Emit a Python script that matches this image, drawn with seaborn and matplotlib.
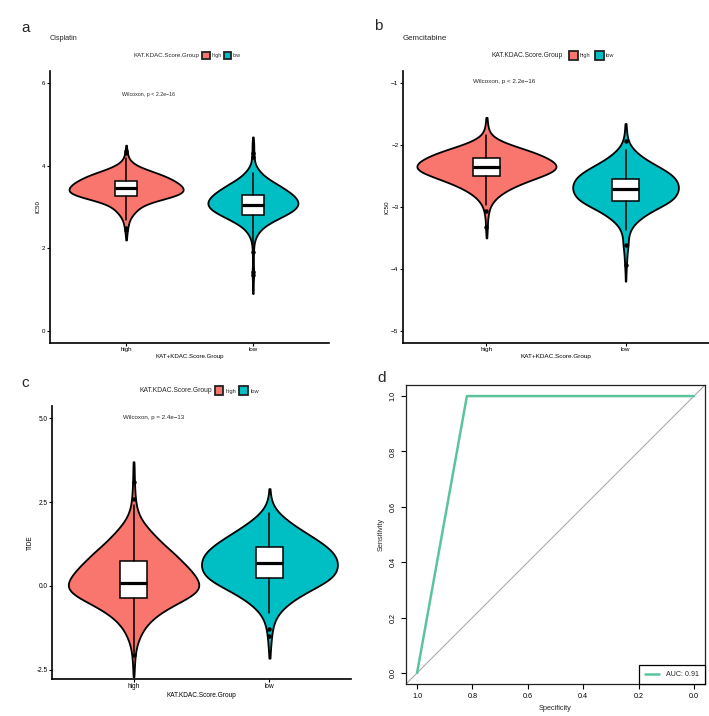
import numpy as np
import pandas as pd
import matplotlib
matplotlib.use("Agg")
import matplotlib.pyplot as plt
import seaborn as sns
from matplotlib.patches import Patch

# ------------------------------------------------------------------ data
groups = ["high", "low"]
palette = {"high": "#F8766D", "low": "#00BFC4"}
legend_title = "KAT.KDAC.Score.Group"

# Panel a: Cisplatin IC50 - value grid and relative frequencies
cis_high_values = [4.5, 4.4, 4.3, 4.2, 4.1, 4.0, 3.9, 3.8, 3.7, 3.6, 3.5, 3.4,
                   3.3, 3.2, 3.1, 3.0, 2.9, 2.8, 2.7, 2.6, 2.5, 2.4, 2.3, 2.2]
cis_high_counts = [1, 2, 4, 6, 13, 30, 60, 100, 125, 148, 162, 170,
                   160, 110, 62, 40, 28, 18, 10, 7, 5, 3, 2, 1]
cis_low_values = [4.7, 4.6, 4.5, 4.4, 4.3, 4.2, 4.1, 4.0, 3.9, 3.8, 3.7, 3.6, 3.5,
                  3.4, 3.3, 3.2, 3.1, 3.0, 2.9, 2.8, 2.7, 2.6, 2.5, 2.4, 2.3, 2.2,
                  2.1, 2.0, 1.9, 1.8, 1.7, 1.6, 1.5, 1.4, 1.3, 1.2, 1.1, 1.0, 0.9]
cis_low_counts = [1, 2, 3, 2, 3, 4, 4, 8, 16, 26, 40, 60, 80,
                  98, 115, 126, 132, 128, 115, 92, 68, 45, 28, 17, 10, 5,
                  3, 2, 2, 1, 2, 1, 2, 3, 2, 1, 1, 1, 1]
# box statistics (high, low)
cis_q1 = [3.27, 2.80]
cis_med = [3.46, 3.06]
cis_q3 = [3.63, 3.30]
cis_whislo = [2.68, 2.02]
cis_whishi = [4.20, 3.82]
cis_fliers = [[4.30, 4.36, 2.50, 2.44], [4.22, 4.30, 1.90, 1.42, 1.34]]

# Panel b: Gemcitabine IC50
gem_high_values = [-1.55, -1.6, -1.7, -1.8, -1.9, -2.0, -2.1, -2.2, -2.3, -2.4, -2.5,
                   -2.6, -2.7, -2.8, -2.9, -3.0, -3.1, -3.2, -3.3, -3.4, -3.5]
gem_high_counts = [1, 2, 4, 8, 25, 70, 132, 174, 204, 206, 160,
                   108, 68, 38, 20, 9, 6, 3, 3, 2, 1]
gem_low_values = [-1.65, -1.7, -1.8, -1.9, -2.0, -2.1, -2.2, -2.3, -2.4, -2.5, -2.6,
                  -2.7, -2.8, -2.9, -3.0, -3.1, -3.2, -3.3, -3.4, -3.5, -3.6, -3.7,
                  -3.8, -3.9, -4.0, -4.1, -4.2]
gem_low_counts = [1, 2, 3, 6, 12, 28, 50, 80, 115, 142, 153,
                  157, 150, 138, 100, 65, 40, 20, 12, 7, 9, 5,
                  4, 3, 2, 1, 1]
gem_q1 = [-2.50, -2.90]
gem_med = [-2.35, -2.71]
gem_q3 = [-2.20, -2.54]
gem_whislo = [-2.97, -3.37]
gem_whishi = [-1.84, -2.08]
gem_fliers = [[-3.07, -3.33], [-1.93, -3.62, -3.94]]

# Panel c: TIDE
tide_high_values = [3.7, 3.5, 3.25, 3.0, 2.75, 2.5, 2.25, 2.0, 1.75, 1.5, 1.25, 1.0,
                    0.75, 0.5, 0.25, 0.0, -0.25, -0.5, -0.75, -1.0, -1.25, -1.5,
                    -1.75, -2.0, -2.25, -2.5, -2.7]
tide_high_counts = [1, 2, 2, 3, 4, 6, 10, 20, 38, 60, 83, 112,
                    135, 160, 178, 193, 177, 125, 82, 50, 30, 18,
                    9, 5, 3, 2, 1]
tide_low_values = [2.9, 2.75, 2.5, 2.25, 2.0, 1.75, 1.5, 1.25, 1.0, 0.75, 0.5, 0.25,
                   0.0, -0.25, -0.5, -0.75, -1.0, -1.25, -1.5, -1.75, -2.0, -2.15]
tide_low_counts = [1, 2, 5, 18, 45, 80, 120, 160, 190, 202, 200, 192,
                   145, 95, 58, 30, 15, 9, 6, 4, 2, 1]
tide_q1 = [-0.35, 0.23]
tide_med = [0.10, 0.69]
tide_q3 = [0.74, 1.17]
tide_whislo = [-1.99, -0.79]
tide_whishi = [2.40, 2.18]
tide_fliers = [[2.60, 3.10, -2.06], [-1.29, -1.49]]

# Panel d: ROC curve
roc_specificity = [1.0, 0.82, 0.0]
roc_sensitivity = [0.0, 1.0, 1.0]
auc_value = 0.91

# ------------------------------------------------------------------ style
sns.set_style("white")
plt.rcParams["font.family"] = ["Liberation Sans", "DejaVu Sans"]
plt.rcParams["axes.unicode_minus"] = True

W, H = 709, 716
fig = plt.figure(figsize=(W / 100, H / 100), dpi=100)


def fx(px):
    return px / W


def fy(py):
    return 1 - py / H


def axes_px(left, top, right, bottom):
    return fig.add_axes([fx(left), fy(bottom), (right - left) / W, (bottom - top) / H])


def violin_panel(ax, dist, widths, q1, med, q3, whislo, whishi, fliers,
                 box_w, ylim, yticks, yticklabels, ylabel, xlabel, fs, bw):
    for g in groups:
        vals, cnts = dist[g]
        df = pd.DataFrame({"group": g, "value": np.repeat(vals, cnts)})
        sns.violinplot(data=df, x="group", y="value", order=groups,
                       color=palette[g], saturation=1, width=widths[g],
                       density_norm="width", cut=0, inner=None, gridsize=200,
                       linewidth=1.3, linecolor="black", bw_adjust=bw[g], ax=ax)
    stats = []
    for i, g in enumerate(groups):
        stats.append(dict(label=g, q1=q1[i], med=med[i], q3=q3[i],
                          whislo=whislo[i], whishi=whishi[i], fliers=fliers[i]))
    ax.bxp(stats, positions=[0, 1], widths=box_w, patch_artist=True,
           showcaps=False, manage_ticks=False, zorder=3,
           boxprops=dict(facecolor="white", edgecolor="black", linewidth=1.1),
           medianprops=dict(color="black", linewidth=2.3),
           whiskerprops=dict(color="black", linewidth=1.1),
           flierprops=dict(marker="o", markerfacecolor="black",
                           markeredgecolor="black", markersize=2.2))
    ax.set_xlim(-0.6, 1.6)
    ax.set_ylim(*ylim)
    ax.set_yticks(yticks)
    ax.set_yticklabels(yticklabels)
    ax.set_xticks([0, 1])
    ax.set_xticklabels(groups)
    ax.set_xlabel(xlabel, fontsize=fs, labelpad=1.2, color="black")
    ax.set_ylabel(ylabel, fontsize=fs, labelpad=1.5, color="black")
    for s in ["top", "right"]:
        ax.spines[s].set_visible(False)
    for s in ["left", "bottom"]:
        ax.spines[s].set_linewidth(1.2)
        ax.spines[s].set_color("black")
    ax.tick_params(axis="both", direction="out", length=2, width=0.8,
                   labelsize=fs, pad=1.2, colors="black", left=True, bottom=True)
    ax.grid(False)


def group_legend(x_title, x_patches, y, fs, patch_px, textpad, colspace):
    fig.text(fx(x_title), fy(y), legend_title, fontsize=fs, ha="left", va="center")
    fpx = fs * 100 / 72
    hl = patch_px / fpx
    hh = (patch_px / fpx - 0.245) / 0.65
    handles = [Patch(facecolor=palette[g], edgecolor="#222222", linewidth=1.3) for g in groups]
    fig.legend(handles, groups, ncol=2, loc="center left",
               bbox_to_anchor=(fx(x_patches), fy(y)), frameon=False,
               fontsize=fs * 0.85, handlelength=hl, handleheight=hh,
               handletextpad=textpad, columnspacing=colspace,
               borderpad=0, borderaxespad=0)


# ------------------------------------------------------------------ panel a
ax_a = axes_px(50, 71, 329, 343)
violin_panel(ax_a,
             {"high": (cis_high_values, cis_high_counts), "low": (cis_low_values, cis_low_counts)},
             {"high": 0.90, "low": 0.71},
             cis_q1, cis_med, cis_q3, cis_whislo, cis_whishi, cis_fliers,
             0.17, (-0.3, 6.3), [0, 2, 4, 6], ["0", "2", "4", "6"],
             "IC50", "KAT+KDAC.Score.Group", 4.4, {"high": 1.2, "low": 0.9})
ax_a.text(-0.03, 5.72, "Wilcoxon, p < 2.2e\u221216", fontsize=3.8, ha="left", va="center")
fig.text(fx(50), fy(39), "Cisplatin", fontsize=5.2, ha="left", va="center")
group_legend(133, 202, 55.5, 4.4, 9, 0.3, 0.4)
fig.text(fx(21), fy(32), "a", fontsize=11, ha="left", va="baseline")

# ------------------------------------------------------------------ panel b
ax_b = axes_px(403, 71, 709, 343)
violin_panel(ax_b,
             {"high": (gem_high_values, gem_high_counts), "low": (gem_low_values, gem_low_counts)},
             {"high": 1.0, "low": 0.76},
             gem_q1, gem_med, gem_q3, gem_whislo, gem_whishi, gem_fliers,
             0.19, (-5.2, -0.8), [-5, -4, -3, -2, -1],
             ["\u22125", "\u22124", "\u22123", "\u22122", "\u22121"],
             "IC50", "KAT+KDAC.Score.Group", 4.6, {"high": 1.3, "low": 1.05})
ax_b.text(-0.10, -0.97, "Wilcoxon, p < 2.2e\u221216", fontsize=4.5, ha="left", va="center")
fig.text(fx(403), fy(39), "Gemcitabine", fontsize=5.7, ha="left", va="center")
group_legend(492, 569, 55.5, 4.8, 10.5, 0.35, 0.8)
fig.text(fx(374), fy(30), "b", fontsize=11, ha="left", va="baseline")

# ------------------------------------------------------------------ panel c
ax_c = axes_px(52, 406, 351, 679)
violin_panel(ax_c,
             {"high": (tide_high_values, tide_high_counts), "low": (tide_low_values, tide_low_counts)},
             {"high": 0.96, "low": 1.0},
             tide_q1, tide_med, tide_q3, tide_whislo, tide_whishi, tide_fliers,
             0.20, (-2.77, 5.36), [-2.5, 0.0, 2.5, 5.0], ["-2.5", "0.0", "2.5", "5.0"],
             "TIDE", "KAT.KDAC.Score.Group", 4.7, {"high": 1.05, "low": 1.3})
ax_c.text(-0.08, 5.03, "Wilcoxon, p = 2.4e\u221213", fontsize=4.45, ha="left", va="center")
group_legend(139, 215, 390.7, 4.85, 10, 0.4, 0.5)
fig.text(fx(21), fy(387), "c", fontsize=11, ha="left", va="baseline")

# ------------------------------------------------------------------ panel d
ax_d = axes_px(406, 385, 705, 684)
ax_d.axline((1.0, 0.0), (0.0, 1.0), color="#AAAAAA", linewidth=0.8, zorder=1)
sns.lineplot(x=roc_specificity, y=roc_sensitivity, sort=False, estimator=None,
             color="#5CC49C", linewidth=1.8, label=f"AUC: {auc_value:.2f}", ax=ax_d)
ax_d.set_xlim(1.04, -0.04)
ax_d.set_ylim(-0.04, 1.04)
ticks = [1.0, 0.8, 0.6, 0.4, 0.2, 0.0]
ax_d.set_xticks(ticks)
ax_d.set_xticklabels([f"{t:.1f}" for t in ticks])
ax_d.set_yticks(ticks)
ax_d.set_yticklabels([f"{t:.1f}" for t in ticks], rotation=90, va="center")
ax_d.tick_params(axis="both", direction="out", length=3.3, width=0.8,
                 labelsize=5.2, pad=3.5, colors="black", left=True, bottom=True)
ax_d.set_xlabel("Specificity", fontsize=5.3, labelpad=3)
ax_d.set_ylabel("Sensitivity", fontsize=5.3, labelpad=3.5)
for s in ax_d.spines.values():
    s.set_linewidth(0.9)
    s.set_color("#222222")
    s.set_visible(True)
ax_d.grid(False)
leg = ax_d.legend(loc="lower right", bbox_to_anchor=(1, 0), borderaxespad=0,
                  fontsize=5.1, handlelength=2.0, handletextpad=1.0, borderpad=0.85,
                  frameon=True, fancybox=False, framealpha=1, edgecolor="black")
leg.get_frame().set_linewidth(0.9)
fig.text(fx(377), fy(382), "d", fontsize=11, ha="left", va="baseline")

fig.savefig("out.png", dpi=100)
